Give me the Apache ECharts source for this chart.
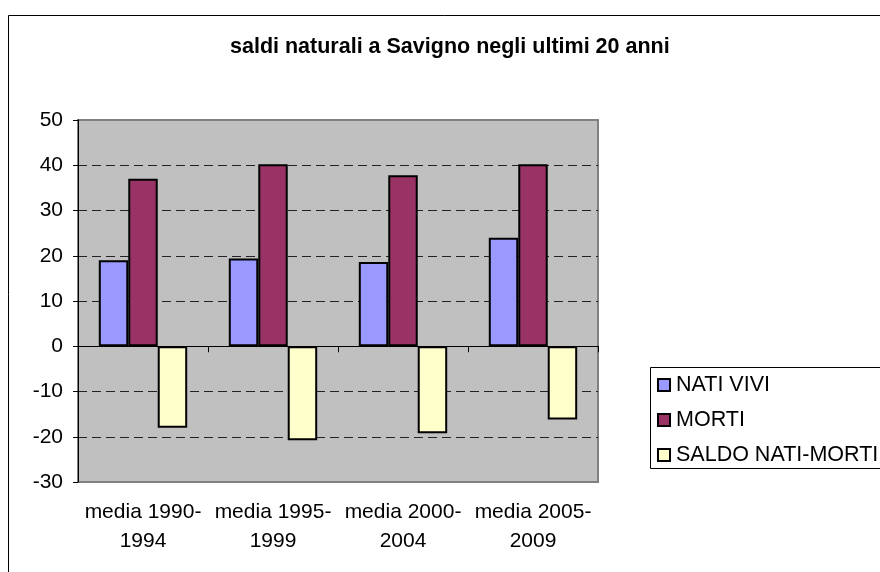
<!DOCTYPE html>
<html>
<head>
<meta charset="utf-8">
<script src="https://cdn.jsdelivr.net/npm/echarts@6/dist/echarts.min.js"></script>
<style>
  html, body { margin: 0; padding: 0; background: #fff; }
  #main { width: 880px; height: 572px; }
</style>
</head>
<body>
<div id="main"></div>
<script>
// dati
const categories = ["media 1990-1994", "media 1995-1999", "media 2000-2004", "media 2005-2009"];
const natiVivi = [19, 19.4, 18.6, 24];
const morti = [37, 40.2, 37.8, 40.2];
const saldo = [-18, -20.8, -19.2, -16.2];
const yTicks = [-30, -20, -10, 0, 10, 20, 30, 40, 50];

const FONT = "'Liberation Sans', Arial, sans-serif";

const chart = echarts.init(document.getElementById("main"));

const option = {
  backgroundColor: "#fff",
  animation: false,
  graphic: [
    // cornice esterna
    {
      type: "rect",
      shape: { x: 8.5, y: 15.5, width: 1000, height: 1000 },
      style: { fill: "none", stroke: "#000", lineWidth: 1 },
      z: -1
    },
    // riquadro legenda (esce dal bordo destro)
    {
      type: "rect",
      shape: { x: 650.5, y: 367.5, width: 400, height: 101 },
      style: { fill: "none", stroke: "#000", lineWidth: 1 },
      z: -1
    }
  ],
  title: {
    text: "saldi naturali a Savigno negli ultimi 20 anni",
    left: 230,
    top: 36,
    padding: 0,
    textStyle: { fontFamily: FONT, fontSize: 21.5, fontWeight: "bold", color: "#000" }
  },
  legend: {
    orient: "vertical",
    left: 650,
    top: 367,
    padding: [7, 0, 4, 7],
    itemWidth: 12,
    itemHeight: 12,
    itemGap: 13,
    icon: "rect",
    textStyle: { fontFamily: FONT, fontSize: 21.5, lineHeight: 21, color: "#000", padding: [0, 0, 0, 1] },
    data: ["NATI VIVI", "MORTI", "SALDO NATI-MORTI"]
  },
  grid: {
    left: 78,
    top: 120,
    right: 282,
    bottom: 90,
    show: true,
    backgroundColor: "#c0c0c0",
    borderColor: "#808080",
    borderWidth: 2
  },
  xAxis: [
    {
      type: "category",
      data: categories,
      axisLine: { onZero: true, lineStyle: { color: "#000", width: 1 } },
      axisTick: { show: true, length: 6, lineStyle: { color: "#000" } },
      axisLabel: { show: false },
      splitLine: { show: false }
    },
    {
      type: "category",
      data: categories,
      position: "bottom",
      axisLine: { show: false, onZero: false },
      axisTick: { show: false },
      axisLabel: {
        interval: 0,
        margin: 16,
        fontFamily: FONT,
        fontSize: 21,
        lineHeight: 29,
        color: "#000",
        formatter: v => v.replace("-", "-\n")
      }
    }
  ],
  yAxis: {
    type: "value",
    min: yTicks[0],
    max: yTicks[yTicks.length - 1],
    interval: 10,
    axisLine: { show: true, lineStyle: { color: "#000", width: 1 } },
    axisTick: { show: true, length: 5, lineStyle: { color: "#000" } },
    axisLabel: { margin: 15, fontFamily: FONT, fontSize: 21, color: "#000" },
    splitLine: {
      show: true,
      showMinLine: false,
      showMaxLine: false,
      lineStyle: { color: "#222", type: [9, 5], width: 1 }
    }
  },
  series: [
    {
      name: "NATI VIVI",
      type: "bar",
      data: natiVivi,
      barGap: "0%",
      barCategoryGap: "32%",
      itemStyle: { color: "#9999ff", borderColor: "#000", borderWidth: 2 }
    },
    {
      name: "MORTI",
      type: "bar",
      data: morti,
      itemStyle: { color: "#993366", borderColor: "#000", borderWidth: 2 }
    },
    {
      name: "SALDO NATI-MORTI",
      type: "bar",
      data: saldo,
      itemStyle: { color: "#ffffcc", borderColor: "#000", borderWidth: 2 }
    }
  ]
};

chart.setOption(option);
</script>
</body>
</html>
